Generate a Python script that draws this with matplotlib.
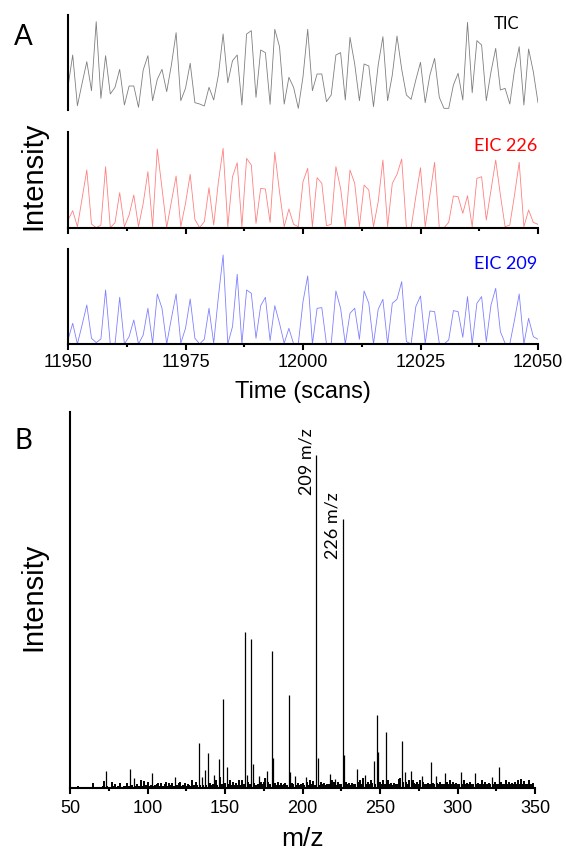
import numpy as np
import matplotlib.pyplot as plt
from matplotlib.ticker import MultipleLocator

# chromatogram traces, one point per scan (arbitrary intensity units)
scans = np.arange(11950, 12051)

tic = [70, 165, 13, 80, 145, 58, 265, 35, 163, 48,
       68, 122, 15, 72, 72, 8, 120, 163, 28, 92,
       122, 55, 135, 232, 28, 65, 140, 22, 18, 12,
       68, 30, 105, 228, 82, 148, 165, 15, 228, 238,
       38, 180, 172, 17, 242, 190, 18, 98, 68, 5,
       100, 242, 58, 108, 108, 25, 45, 165, 172, 30,
       218, 138, 28, 138, 132, 10, 135, 220, 28, 105,
       222, 122, 45, 32, 90, 143, 22, 105, 155, 38,
       5, 5, 75, 110, 30, 263, 52, 208, 195, 28,
       115, 185, 60, 65, 18, 120, 190, 15, 183, 115,
       22]

eic_226 = [23, 51, 3, 88, 173, 11, 0, 8, 183, 0,
           15, 105, 3, 38, 98, 3, 73, 168, 3, 236,
           118, 0, 78, 155, 3, 73, 160, 25, 0, 18,
           120, 8, 138, 238, 3, 153, 195, 3, 208, 188,
           13, 118, 116, 16, 226, 108, 3, 56, 10, 3,
           138, 178, 3, 150, 133, 6, 10, 183, 118, 3,
           173, 133, 3, 128, 113, 3, 78, 203, 3, 133,
           160, 206, 0, 0, 93, 180, 3, 98, 196, 0,
           0, 16, 95, 93, 43, 96, 3, 148, 153, 23,
           113, 203, 98, 3, 8, 98, 196, 3, 53, 16,
           10]

eic_209 = [13, 63, 1, 58, 118, 18, 5, 16, 163, 0,
           0, 141, 1, 23, 73, 1, 28, 108, 3, 151,
           108, 1, 78, 151, 3, 48, 136, 18, 1, 15,
           108, 3, 143, 268, 1, 53, 210, 1, 163, 153,
           18, 116, 141, 11, 116, 63, 3, 48, 1, 1,
           128, 205, 1, 108, 110, 1, 1, 160, 108, 1,
           93, 108, 15, 160, 123, 1, 105, 135, 1, 123,
           135, 188, 8, 1, 113, 145, 3, 100, 98, 3,
           1, 13, 101, 98, 21, 143, 1, 123, 143, 8,
           118, 168, 38, 3, 1, 73, 151, 1, 78, 23,
           15]

# mass spectrum: labelled / visible peaks (relative intensity, %)
peak_mz = [73, 89, 91, 103, 118, 133, 135, 137, 139, 143,
           146, 149, 151, 163, 164, 167, 168, 172, 176, 177,
           180, 181, 191, 192, 195, 202, 209, 210, 218, 221,
           226, 227, 235, 240, 246, 248, 249, 254, 264, 266,
           270, 277, 283, 286, 292, 302, 311, 322, 327]
peak_int = [5.0, 5.6, 2.9, 4.4, 3.1, 13.3, 3.2, 5.4, 10.4, 3.7,
            8.7, 26.7, 6.3, 46.9, 3.9, 44.7, 7.1, 3.5, 3.0, 5.1,
            41.2, 8.9, 28.0, 4.8, 3.4, 3.1, 100.0, 8.8, 4.2, 2.7,
            80.7, 9.8, 5.5, 3.7, 8.0, 21.9, 10.7, 16.7, 13.9, 4.6,
            5.1, 3.6, 7.7, 3.6, 4.5, 4.7, 4.5, 3.1, 6.1]

# low-level background, m/z 55 to 349
noise_start = 55
noise_int = [0.5, 0.0, 0.0, 0.3, 0.0, 0.0, 0.3, 0.0, 0.0, 0.2,
             1.5, 0.0, 0.2, 0.0, 0.0, 0.3, 0.6, 1.9, 0.0, 0.4,
             0.3, 0.2, 1.7, 0.4, 1.2, 0.3, 0.5, 1.4, 0.3, 0.2,
             0.5, 0.4, 1.5, 0.6, 0.0, 0.8, 0.0, 0.5, 1.2, 0.4,
             0.6, 2.2, 0.5, 1.9, 0.7, 1.6, 0.4, 0.8, 0.0, 0.6,
             0.7, 1.2, 1.5, 0.5, 1.4, 0.6, 1.0, 1.7, 0.6, 1.5,
             0.8, 1.4, 0.6, 0.0, 0.7, 1.4, 1.7, 0.6, 0.8, 1.5,
             0.5, 1.2, 0.7, 0.6, 2.4, 0.9, 1.7, 0.8, 0.0, 0.9,
             0.0, 0.7, 0.0, 0.8, 0.0, 1.5, 0.9, 1.1, 0.0, 2.4,
             0.9, 0.0, 3.2, 1.2, 0.0, 1.5, 0.0, 1.0, 2.4, 0.8,
             1.7, 0.9, 1.5, 0.7, 2.2, 0.8, 2.4, 1.0, 0.0, 0.0,
             1.7, 1.0, 0.0, 0.0, 1.5, 0.9, 1.2, 0.0, 1.7, 1.0,
             1.7, 2.9, 0.0, 1.7, 1.0, 0.0, 0.0, 1.4, 0.8, 1.7,
             0.9, 1.5, 0.7, 1.0, 1.4, 0.8, 0.0, 0.0, 1.5, 1.0,
             0.0, 0.9, 1.5, 0.8, 1.2, 1.5, 0.9, 0.0, 1.7, 0.9,
             2.4, 1.0, 1.9, 0.8, 0.0, 0.0, 0.9, 1.7, 1.0, 1.4,
             0.9, 1.2, 1.0, 0.0, 2.2, 1.7, 0.0, 0.9, 1.7, 1.0,
             1.2, 0.0, 0.0, 1.7, 1.0, 1.5, 0.9, 1.4, 1.0, 1.2,
             0.0, 1.7, 2.4, 1.0, 2.9, 0.0, 1.2, 1.7, 1.0, 2.2,
             1.4, 0.0, 1.0, 0.0, 0.0, 1.7, 1.2, 2.4, 1.0, 0.0,
             2.2, 1.0, 1.5, 0.9, 1.5, 1.2, 1.0, 2.7, 3.0, 0.0,
             1.7, 0.0, 1.7, 1.2, 2.2, 0.0, 2.2, 1.4, 1.0, 1.7,
             1.2, 2.4, 0.0, 1.7, 1.0, 1.2, 1.5, 1.0, 0.0, 1.4,
             1.0, 0.0, 1.5, 1.0, 1.7, 1.2, 1.0, 0.0, 1.7, 1.2,
             2.4, 1.0, 1.7, 1.2, 1.5, 1.0, 1.2, 0.0, 1.0, 2.4,
             1.2, 1.5, 1.0, 1.7, 1.2, 1.0, 0.0, 1.0, 1.5, 1.2,
             1.0, 2.2, 1.2, 1.7, 1.0, 1.5, 1.2, 0.0, 1.0, 1.7,
             1.2, 1.0, 0.0, 1.7, 1.2, 1.0, 2.2, 1.2, 1.7, 1.0,
             1.5, 1.2, 1.7, 1.0, 2.4, 1.2, 2.7, 1.0, 1.9, 1.2,
             1.0, 2.4, 1.2, 1.0, 1.5]

labelled = [(209, "209 m/z"), (226, "226 m/z")]

W, H = 566, 859
LABEL_FONT = ["Lato", "DejaVu Sans"]
AXIS_FONT = ["Liberation Sans", "DejaVu Sans"]


def frac(x, y):
    return x / W, 1 - y / H


def box(left, top, right, bottom):
    return [left / W, 1 - bottom / H, (right - left) / W, (bottom - top) / H]


def style_axis(ax):
    for side in ("top", "right"):
        ax.spines[side].set_visible(False)
    for side in ("left", "bottom"):
        ax.spines[side].set_linewidth(1.5)
    ax.tick_params(axis="x", which="major", direction="out", length=4, width=1.5)
    ax.tick_params(axis="x", which="minor", direction="out", length=2.5, width=1.5)
    ax.set_yticks([])


fig = plt.figure(figsize=(W / 100, H / 100), dpi=100)

traces = [
    (tic, "#7f7f7f", "TIC", "black", 15, 110, 285, 24),
    (eic_226, "#ff8080", "EIC 226", "#ff0000", 131.7, 227.7, 288, 146),
    (eic_209, "#8080ff", "EIC 209", "#0000ff", 249.3, 344.3, 285, 264),
]

axes = []
for values, color, name, text_color, top, bottom, ymax, label_y in traces:
    ax = fig.add_axes(box(68, top, 538, bottom))
    ax.plot(scans, values, color=color, lw=0.6)
    ax.set_xlim(11950, 12050)
    ax.set_ylim(0, ymax)
    style_axis(ax)
    ax.xaxis.set_major_locator(MultipleLocator(25))
    ax.xaxis.set_minor_locator(MultipleLocator(12.5))
    size = 12 if name == "TIC" else 13
    right = 519 if name == "TIC" else 537
    fig.text(*frac(right, label_y), name, color=text_color, fontsize=size,
             family=LABEL_FONT, ha="right", va="center")
    axes.append(ax)

axes[0].spines["bottom"].set_visible(False)
axes[0].tick_params(axis="x", which="both", bottom=False, labelbottom=False)
axes[1].tick_params(axis="x", labelbottom=False)
axes[2].tick_params(axis="x", labelsize=13, pad=3)
for lab in axes[2].get_xticklabels():
    lab.set_family(AXIS_FONT)
axes[2].set_xlabel("Time (scans)", fontsize=17, family=AXIS_FONT, labelpad=7)

# mass spectrum
ms = fig.add_axes(box(70, 412, 535, 787.7))
noise_mz = np.arange(noise_start, noise_start + len(noise_int))
ms.vlines(noise_mz, 0, noise_int, color="black", lw=1.4)
ms.vlines(peak_mz, 0, peak_int, color="black", lw=0.9)
ms.set_xlim(50, 350)
ms.set_ylim(0, 112.9)
style_axis(ms)
ms.xaxis.set_major_locator(MultipleLocator(50))
ms.xaxis.set_minor_locator(MultipleLocator(25))
ms.tick_params(axis="x", labelsize=13, pad=5)
for lab in ms.get_xticklabels():
    lab.set_family(AXIS_FONT)
ms.set_xlabel("m/z", fontsize=19, family=AXIS_FONT, labelpad=7)

for mz, text in labelled:
    height = peak_int[peak_mz.index(mz)]
    ms.text(mz - 1.5, height - 2, text, rotation=90, fontsize=13,
            family=LABEL_FONT, ha="right", va="center")

fig.text(*frac(33, 176), "Intensity", rotation=90, fontsize=21,
         family=AXIS_FONT, ha="center", va="center")
fig.text(*frac(33, 597), "Intensity", rotation=90, fontsize=21,
         family=AXIS_FONT, ha="center", va="center")
fig.text(*frac(23, 37), "A", fontsize=20, family=LABEL_FONT,
         ha="center", va="center")
fig.text(*frac(23, 441), "B", fontsize=20, family=LABEL_FONT,
         ha="center", va="center")

fig.savefig("out.png", dpi=100)
